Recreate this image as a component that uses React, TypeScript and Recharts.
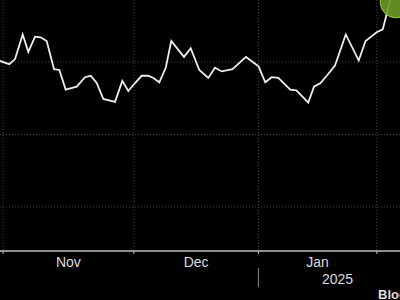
import { LineChart, Line, XAxis, YAxis, CartesianGrid, ReferenceDot } from 'recharts';

// trading-day index (0 = first day of Nov) and index level
const dayIndex = [
  -1, 1.01, 1.93, 3.16, 4.06, 5.14, 6.05, 7.01, 8.19, 9.04, 10.06, 11.83, 13.16, 14.08, 15.04,
  16.1, 17.98, 19.15, 20.11, 21.19, 22.26, 23.32, 24.13, 25.09, 26.12, 27.01, 29.05, 30.13,
  31.51, 32.95, 34.03, 35.1, 36.84, 39.0, 41.01, 42.1, 43.13, 44.19, 46.11, 47.08, 49.0, 49.92,
  50.96, 51.96, 53.29, 55.02, 57.1, 58.19, 59.98, 60.95, 61.53, 62.6,
];
const level = [
  3.03, 2.97, 3.04, 3.38, 3.14, 3.35, 3.34, 3.29, 2.9, 2.89, 2.62, 2.66, 2.79, 2.81, 2.71,
  2.49, 2.45, 2.74, 2.6, 2.71, 2.81, 2.81, 2.78, 2.72, 2.92, 3.29, 3.07, 3.19,
  2.89, 2.78, 2.92, 2.87, 2.9, 3.07, 2.94, 2.72, 2.79, 2.78, 2.62, 2.61, 2.44, 2.66,
  2.71, 2.81, 2.95, 3.38, 3.02, 3.29, 3.41, 3.45, 3.64, 4.0,
];

const monthStarts = [0, 21, 41, 60];
const monthMids = [10.5, 31, 50.5];
const monthNames = ['Nov', 'Dec', 'Jan'];
const yearTicks = [41, 53.7];
const yearNames = ['', '2025'];
const levelTicks = [1, 2, 3, 4];
const highlight = { day: 63.1, level: 3.83 };

const dayDomain = [-5.3, 68.54];
const levelDomain = [0.393, 4.269];

const data = dayIndex.map((d, i) => ({ day: d, level: level[i] }));

const FONT = '"Liberation Sans", Arial, sans-serif';

function YearTick(props: any) {
  const { x, y, payload } = props;
  const name = yearNames[yearTicks.indexOf(payload.value)];
  if (!name) {
    return <line x1={x} x2={x} y1={y - 6} y2={y + 13} stroke="#888" strokeWidth={1} />;
  }
  return (
    <text x={x} y={y} dy="0.71em" textAnchor="middle" fill="#ddd" fontSize={14} fontFamily={FONT}>
      {name}
    </text>
  );
}

export default function App() {
  return (
    <div
      style={{
        position: 'fixed',
        left: 0,
        top: 0,
        width: 400,
        height: 300,
        overflow: 'hidden',
        background: '#000',
      }}
    >
      <div style={{ position: 'absolute', left: -30, top: -30 }}>
        <LineChart width={460} height={340} data={data} margin={{ top: 0, right: 0, bottom: 0, left: 0 }}>
          <CartesianGrid xAxisId="main" stroke="#474747" strokeDasharray="1 2" />
          <XAxis
            xAxisId="main"
            dataKey="day"
            type="number"
            domain={dayDomain}
            allowDataOverflow
            ticks={monthStarts}
            interval={0}
            height={6}
            tickSize={3}
            tickFormatter={() => ''}
            axisLine={{ stroke: '#bbb', strokeWidth: 1.5 }}
            tickLine={{ stroke: '#bbb' }}
          />
          <XAxis
            xAxisId="months"
            dataKey="day"
            type="number"
            domain={dayDomain}
            allowDataOverflow
            ticks={monthMids}
            interval={0}
            height={17}
            tickSize={0}
            tickMargin={0}
            axisLine={false}
            tickLine={false}
            tickFormatter={(v: number) => monthNames[monthMids.indexOf(v)] ?? ''}
            tick={{ fill: '#ddd', fontSize: 14, fontFamily: FONT }}
          />
          <XAxis
            xAxisId="year"
            dataKey="day"
            type="number"
            domain={dayDomain}
            allowDataOverflow
            ticks={yearTicks}
            interval={0}
            height={36}
            tickSize={0}
            tickMargin={0}
            axisLine={false}
            tickLine={false}
            tick={<YearTick />}
          />
          <YAxis hide type="number" domain={levelDomain} allowDataOverflow ticks={levelTicks} />
          <Line
            xAxisId="main"
            type="linear"
            dataKey="level"
            stroke="#eeeeee"
            strokeWidth={1.8}
            dot={false}
            activeDot={false}
            isAnimationActive={false}
          />
          <ReferenceDot
            xAxisId="main"
            x={highlight.day}
            y={highlight.level}
            r={16}
            fill="#6a9a28"
            fillOpacity={0.9}
            stroke="#9ccc4a"
            strokeWidth={1}
          />
        </LineChart>
      </div>
      <div
        style={{
          position: 'absolute',
          left: 378,
          top: 288,
          fontFamily: FONT,
          fontWeight: 'bold',
          fontSize: 13,
          lineHeight: '13px',
          color: '#ddd',
          whiteSpace: 'nowrap',
        }}
      >
        Bloomberg
      </div>
    </div>
  );
}
